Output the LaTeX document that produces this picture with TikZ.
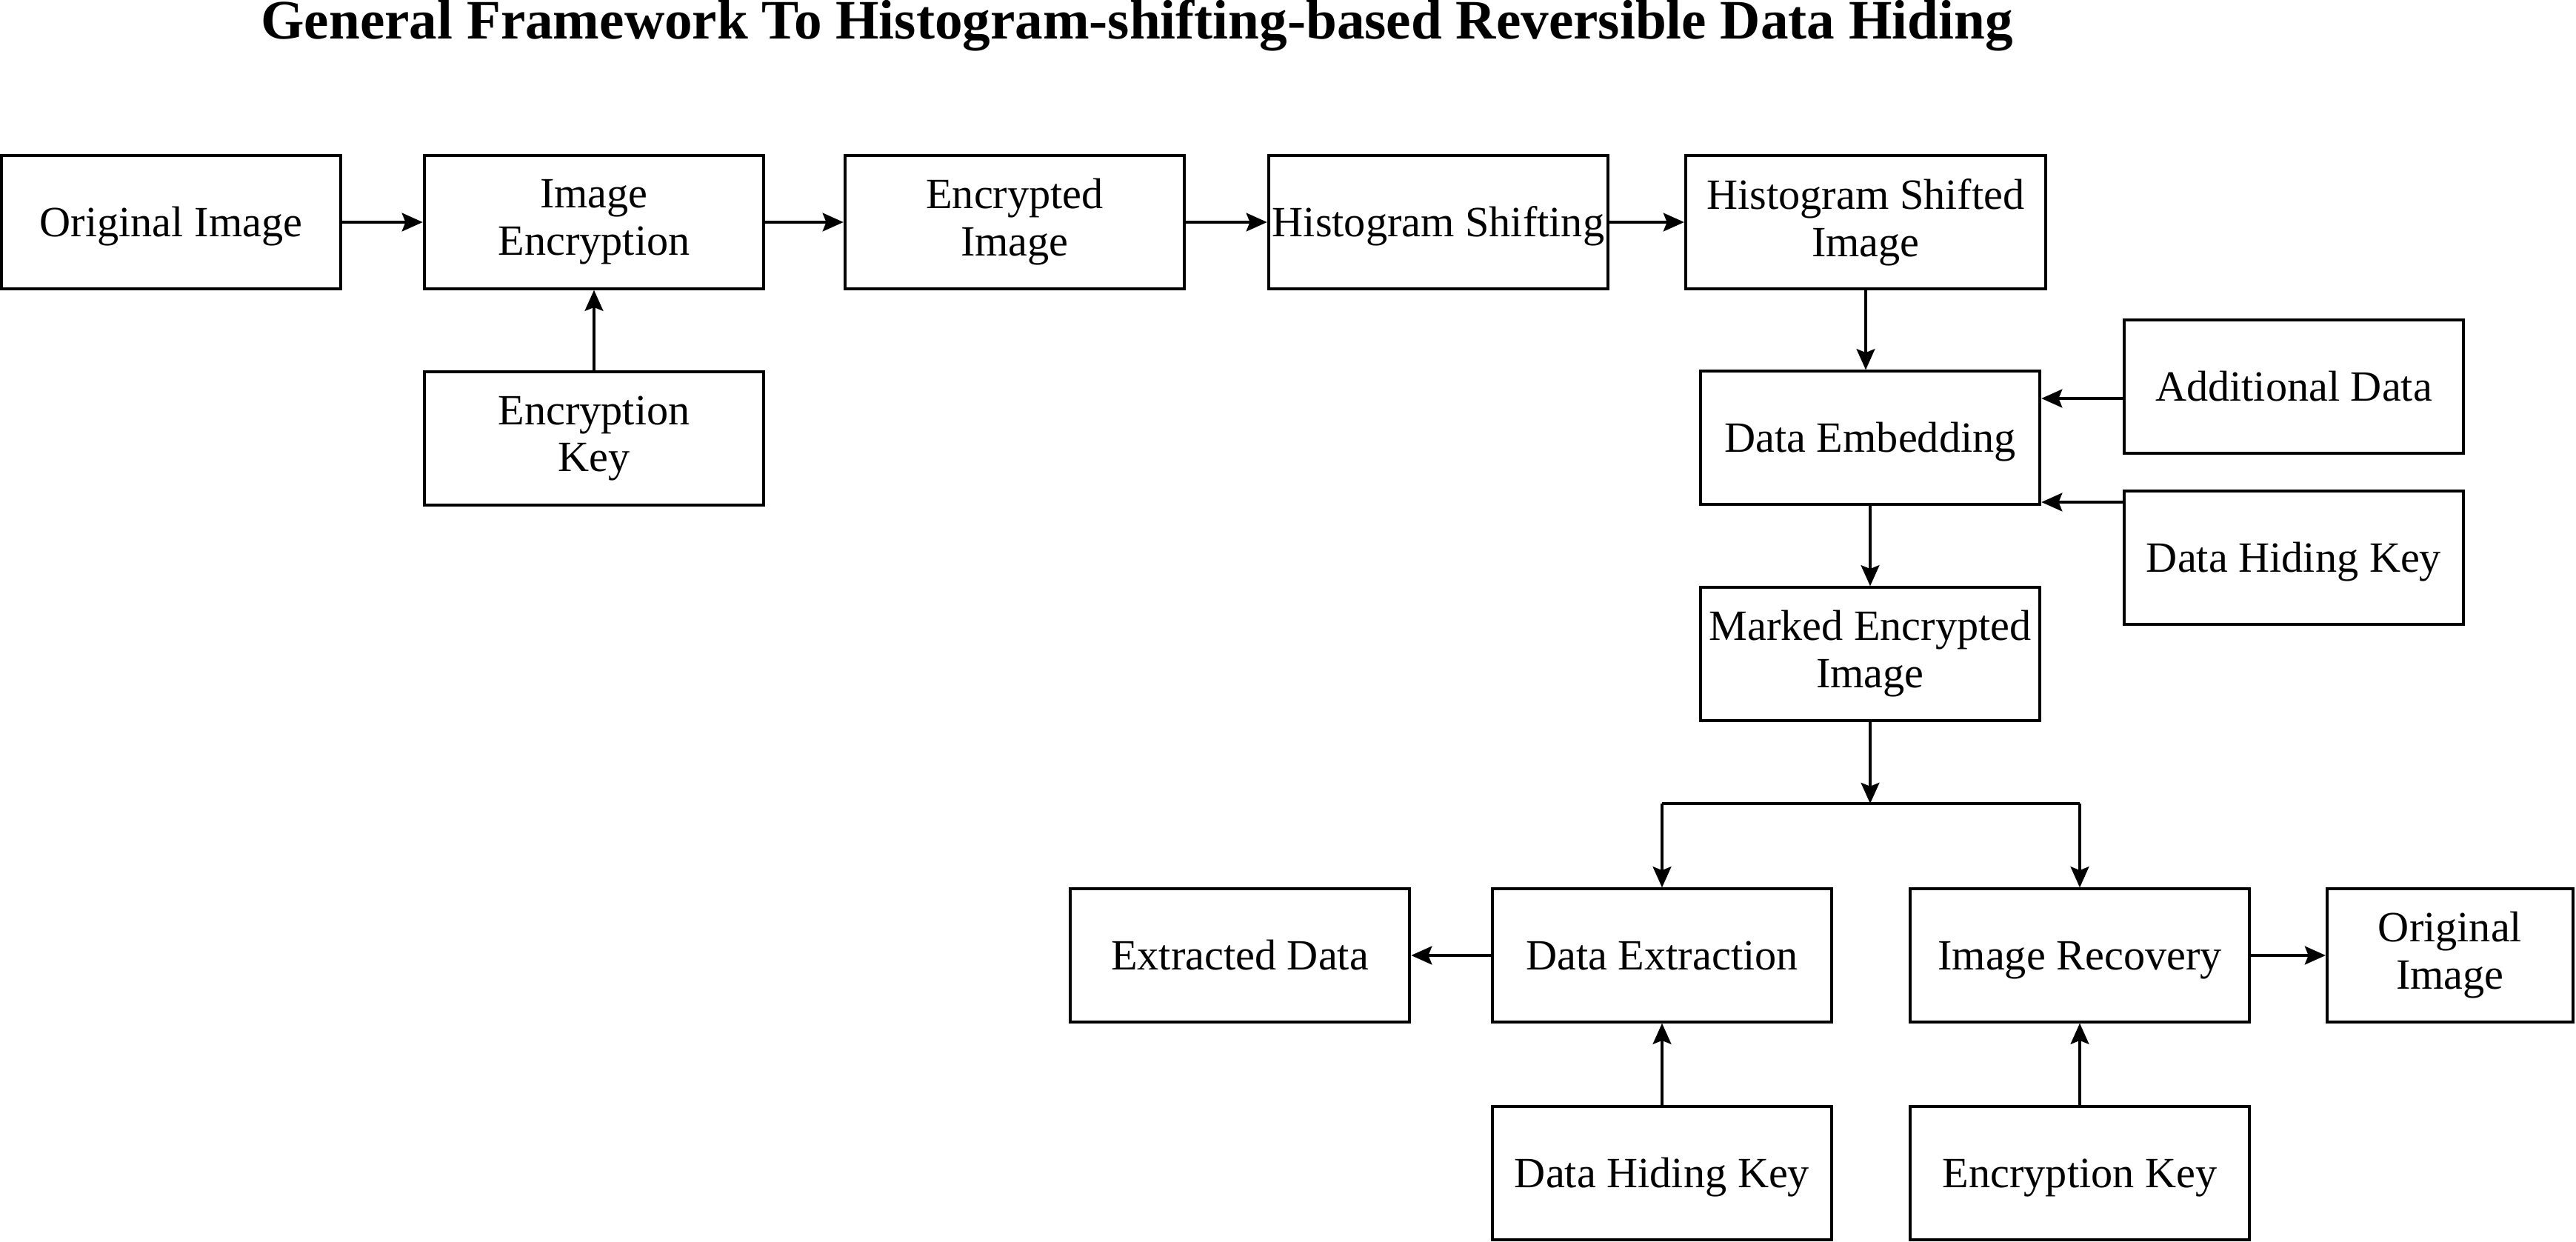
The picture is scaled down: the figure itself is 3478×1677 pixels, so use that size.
\documentclass[tikz,border=0pt]{standalone}
\usepackage{fontspec}
\setmainfont{Liberation Serif}
\usetikzlibrary{arrows.meta}

\begin{document}
\begin{tikzpicture}[x=0.2454pt,y=-0.2454pt,
  block/.style={draw,line width=1pt,minimum width=112.5pt,minimum height=44pt,
    inner sep=1pt,align=center,font=\fontsize{14.3}{15.7}\selectfont,
    execute at begin node={\rule{0pt}{0.891em}},
    execute at end node={\rule[-0.216em]{0pt}{0pt}}},
  flow/.style={line width=0.85pt,-{Stealth[length=6.9pt,width=6.1pt,inset=1.2pt]}}]
\useasboundingbox (0,0) rectangle (3478,1677);
\node[anchor=base,font=\bfseries\fontsize{18.45}{20}\selectfont] (title) at (1535,53)
  {General Framework To Histogram-shifting-based Reversible Data Hiding};
\node[block] (orig) at (231,300) {Original Image};
\node[block] (imgenc) at (802,300) {Image\\Encryption};
\node[block] (encimg) at (1370,300) {Encrypted\\Image};
\node[block] (hshift) at (1942,300) {Histogram Shifting};
\node[block,minimum width=119.3pt] (hsimg) at (2519,300) {Histogram Shifted\\Image};
\node[block] (enckey) at (802,592) {Encryption\\Key};
\node[block] (embed) at (2525,591) {Data Embedding};
\node[block] (adddata) at (3097,522) {Additional Data};
\node[block] (dhkey) at (3097,753) {Data Hiding Key};
\node[block] (marked) at (2525,883) {Marked Encrypted\\Image};
\node[block] (dext) at (2244,1290) {Data Extraction};
\node[block] (irec) at (2808,1290) {Image Recovery};
\node[block] (extd) at (1674,1290) {Extracted Data};
\node[block,minimum width=81.5pt] (origout) at (3308,1290) {Original\\Image};
\node[block] (dhkeyb) at (2244,1584) {Data Hiding Key};
\node[block] (enckeyb) at (2808,1584) {Encryption Key};
\coordinate (split) at (2525,1085);
\coordinate (adin) at (3097-229,538);
\coordinate (dhin) at (3097-229,678);
\draw[flow] (orig) -- (imgenc);
\draw[flow] (imgenc) -- (encimg);
\draw[flow] (encimg) -- (hshift);
\draw[flow] (hshift) -- (hsimg);
\draw[flow] (enckey) -- (imgenc);
\draw[flow] (hsimg.south) -- (hsimg.south |- embed.north);
\draw[flow] (adin) -- (adin -| embed.east);
\draw[flow] (dhin) -- (dhin -| embed.east);
\draw[flow] (embed) -- (marked);
\draw[flow] (marked) -- (split);
\draw[line width=0.9pt] (split -| dext) -- (split -| irec);
\draw[flow] (split -| dext) -- (dext);
\draw[flow] (split -| irec) -- (irec);
\draw[flow] (dext) -- (extd);
\draw[flow] (irec) -- (origout);
\draw[flow] (dhkeyb) -- (dext);
\draw[flow] (enckeyb) -- (irec);
\end{tikzpicture}
\end{document}
